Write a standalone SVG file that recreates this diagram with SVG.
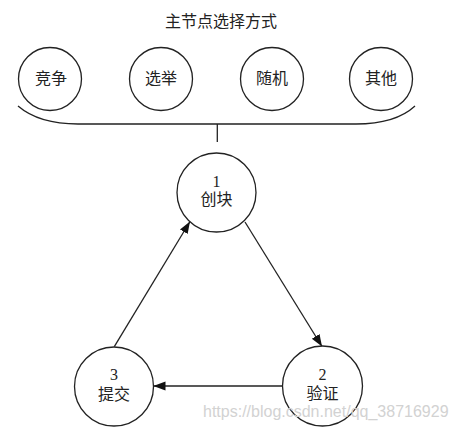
<svg xmlns="http://www.w3.org/2000/svg" width="454" height="430" viewBox="0 0 454 430">
<defs>
<style>
.n{fill:#fff;stroke:#222;stroke-width:1.3}
.t{font-family:"Liberation Serif","Noto Sans CJK SC",serif;font-size:16px;fill:#222;text-anchor:middle}
.c{stroke:#222;stroke-width:1.3;fill:none}
.wm{font-family:"Liberation Sans",Arial,sans-serif;font-size:16px;fill:#d2d2d2}
</style>
<marker id="ah" markerUnits="userSpaceOnUse" markerWidth="12" markerHeight="10" refX="12" refY="4.5" orient="auto">
<path d="M0,0 L12,4.5 L0,9 z" fill="#111"/>
</marker>
</defs>
<rect width="454" height="430" fill="#fff"/>
<text id="title" class="t" x="221" y="27">主节点选择方式</text>
<g id="jingzheng"><circle class="n" cx="50" cy="79" r="31.5"/><text class="t" x="51" y="84">竞争</text></g>
<g id="xuanju"><circle class="n" cx="161" cy="79" r="31.5"/><text class="t" x="161" y="84">选举</text></g>
<g id="suiji"><circle class="n" cx="272" cy="79" r="31.5"/><text class="t" x="272" y="84">随机</text></g>
<g id="qita"><circle class="n" cx="381" cy="79" r="31.5"/><text class="t" x="381" y="84">其他</text></g>
<g id="brace">
<path class="c" d="M18,106 C32,118 52,124 78,124 H356 C382,124 402,118 415,106"/>
<line class="c" x1="217.3" y1="124" x2="217.3" y2="142"/>
</g>
<g id="connectors">
<line class="c" x1="245" y1="222" x2="322" y2="346.5" marker-end="url(#ah)"/>
<line class="c" x1="282" y1="386" x2="153.5" y2="386" marker-end="url(#ah)"/>
<line class="c" x1="114.3" y1="346.7" x2="190" y2="221.5" marker-end="url(#ah)"/>
</g>
<g id="node1"><circle class="n" cx="216.5" cy="192.5" r="39.5"/><text class="t" x="216.5" y="187">1</text><text class="t" x="216.5" y="205">创块</text></g>
<g id="node2"><circle class="n" cx="322.5" cy="386" r="40"/><text class="t" x="322.5" y="380">2</text><text class="t" x="322.5" y="399">验证</text></g>
<g id="node3"><circle class="n" cx="114" cy="386.5" r="39.5"/><text class="t" x="114" y="380">3</text><text class="t" x="114" y="400">提交</text></g>
<text class="wm" x="203" y="417">https://blog.csdn.net/qq_38716929</text>
</svg>
